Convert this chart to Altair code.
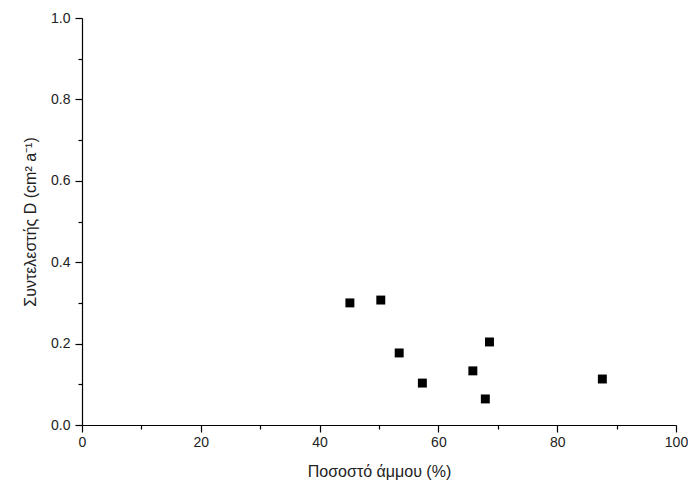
import altair as alt
import pandas as pd

sand = [45.1, 50.3, 53.4, 57.3, 65.8, 68.6, 67.9, 87.6]
coef_d = [0.300, 0.307, 0.177, 0.103, 0.133, 0.204, 0.064, 0.113]

df = pd.DataFrame({"sand": sand, "D": coef_d})

FONT = "Liberation Sans"
x_scale = alt.Scale(domain=[0, 100], nice=False, zero=False)
y_scale = alt.Scale(domain=[0, 1], nice=False, zero=False)

common_axis = dict(domainColor="black", tickColor="black", domainWidth=1.2, tickWidth=1.2,
                   grid=False, labelFont=FONT, titleFont=FONT, labelColor="#222",
                   titleColor="#222", titleFontWeight="normal", labelFlush=False,
                   labelOverlap=False)

points = alt.Chart(df).mark_square(size=80, color="black", opacity=1).encode(
    x=alt.X("sand:Q", scale=x_scale,
            axis=alt.Axis(values=[0, 20, 40, 60, 80, 100], format="d", tickSize=7,
                          labelFontSize=14, labelPadding=3,
                          title="Ποσοστό άμμου (%)", titleFontSize=16, titlePadding=14,
                          orient="bottom", **common_axis)),
    y=alt.Y("D:Q", scale=y_scale,
            axis=alt.Axis(values=[0, 0.2, 0.4, 0.6, 0.8, 1.0], format=".1f", tickSize=7,
                          labelFontSize=14, labelPadding=5,
                          title="Συντελεστής D (cm² a⁻¹)", titleFontSize=16, titlePadding=12,
                          orient="left", **common_axis)),
)

minor = alt.Chart(df).mark_point(opacity=0).encode(
    x=alt.X("sand:Q", scale=x_scale,
            axis=alt.Axis(values=[10, 30, 50, 70, 90], tickSize=4, labels=False, title=None,
                          domain=False, orient="bottom", **common_axis)),
    y=alt.Y("D:Q", scale=y_scale,
            axis=alt.Axis(values=[0.1, 0.3, 0.5, 0.7, 0.9], tickSize=4, labels=False, title=None,
                          domain=False, orient="left", **common_axis)),
)

chart = alt.layer(minor, points).resolve_axis(x="independent", y="independent").properties(
    width=594, height=407,
    autosize=alt.AutoSizeParams(type="none"),
    padding={"left": 74, "top": 10, "right": 12, "bottom": 58},
    background="white",
).configure_view(stroke=None)

chart.save("out.html", embed_options={"renderer": "svg", "actions": False})
